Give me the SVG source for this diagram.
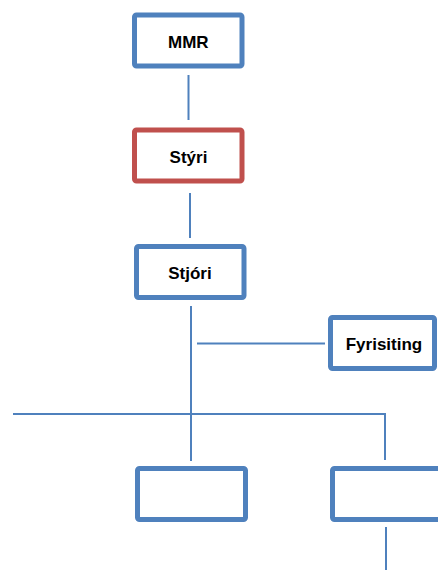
<svg xmlns="http://www.w3.org/2000/svg" width="438" height="570" viewBox="0 0 438 570">
<style>
.box{fill:#fff;stroke:#4F81BD;stroke-width:5}
.red{stroke:#C0504D}
.ln{stroke:#4F81BD;stroke-width:2;fill:none}
.t{font-family:"Liberation Sans",Arial,sans-serif;font-weight:bold;font-size:17px;fill:#000;text-anchor:middle}
</style>
<rect width="438" height="570" fill="#fff"/>
<g id="connectors">
<line class="ln" x1="188.5" y1="75" x2="188.5" y2="120"/>
<line class="ln" x1="190" y1="193" x2="190" y2="238"/>
<line class="ln" x1="191" y1="306" x2="191" y2="461"/>
<line class="ln" x1="197" y1="343.5" x2="325" y2="343.5"/>
<line class="ln" x1="13" y1="414" x2="386" y2="414"/>
<line class="ln" x1="385" y1="413" x2="385" y2="460"/>
<line class="ln" x1="386" y1="527" x2="386" y2="570"/>
</g>
<g id="mmr"><rect class="box" x="134.5" y="15" width="107.5" height="51" rx="2"/><text class="t" x="188.3" y="47.5">MMR</text></g>
<g id="styri"><rect class="box red" x="134.5" y="130" width="107.5" height="51" rx="2"/><text class="t" x="188.5" y="163">Stýri</text></g>
<g id="stjori"><rect class="box" x="136.5" y="246.5" width="107.5" height="51" rx="2"/><text class="t" x="190" y="278.5">Stjóri</text></g>
<g id="fyrisiting"><rect class="box" x="330.5" y="317.5" width="104" height="51" rx="2"/><text class="t" x="384" y="350">Fyrisiting</text></g>
<g id="box-left"><rect class="box" x="137.5" y="468.5" width="108" height="51" rx="2"/></g>
<g id="box-right"><rect class="box" x="332.5" y="468.5" width="112" height="51" rx="2"/></g>
</svg>
